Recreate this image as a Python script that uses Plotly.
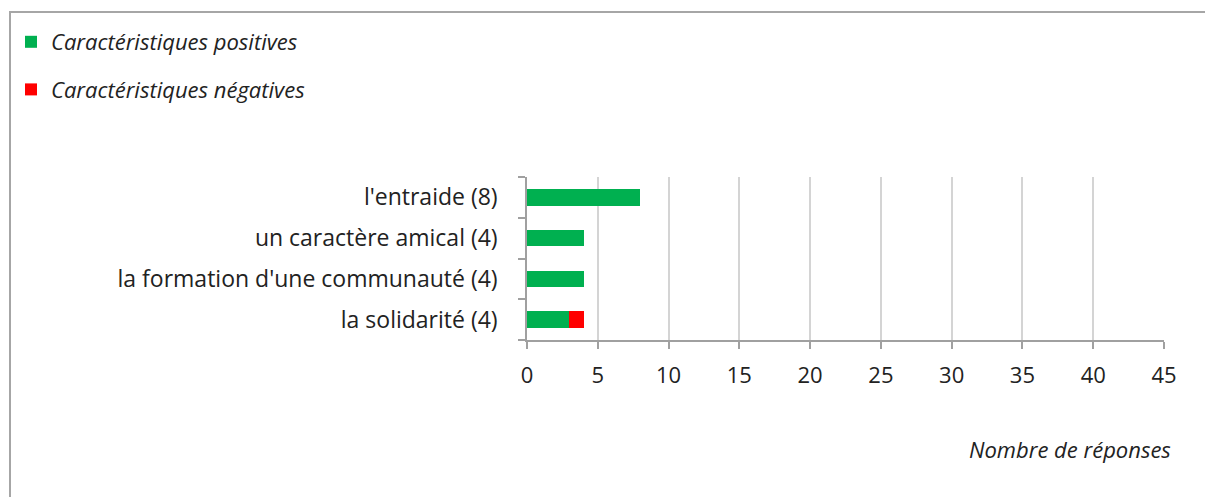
import plotly.graph_objects as go

categories = ["la solidarité (4)", "la formation d'une communauté (4)", "un caractère amical (4)", "l'entraide (8)"]
positives = [3, 4, 4, 8]
negatives = [1, 0, 0, 0]
x_ticks = [0, 5, 10, 15, 20, 25, 30, 35, 40, 45]

OFF = 8  # page body margin
W, H = 1213 - OFF, 497 - OFF
# plot area in page pixel coords
PL, PR, PT, PB = 527, 1164, 177, 340
L, T = PL - OFF, PT - OFF
R, B = W - (PR - OFF), H - (PB - OFF)
pw, ph = PR - PL, PB - PT

def px(xp):
    return (xp - PL) / pw

def py(yp):
    return (PB - yp) / ph

FONT = "Open Sans"
FS = 22
fig = go.Figure()
fig.add_trace(go.Bar(y=categories, x=positives, orientation="h", name="<i>Caractéristiques positives</i>",
                     marker=dict(color="#00B050", line=dict(width=0)), legendgroup="a"))
fig.add_trace(go.Bar(y=categories, x=negatives, orientation="h", name="<i>Caractéristiques négatives</i>",
                     marker=dict(color="#FF0000", line=dict(width=0)), legendgroup="b"))

fig.update_layout(
    width=W, height=H, barmode="stack", bargap=0.6,
    margin=dict(l=L, r=R, t=T, b=B, autoexpand=False),
    paper_bgcolor="white", plot_bgcolor="white",
    font=dict(family=FONT, size=FS, color="#222222"),
    showlegend=True,
    legend=dict(x=px(11), y=py(21), xanchor="left", yanchor="top", tracegroupgap=16,
                traceorder="grouped", font=dict(size=FS, color="#222222", family=FONT),
                bgcolor="rgba(0,0,0,0)", itemwidth=30),
    xaxis=dict(range=[0, 45], tickvals=x_ticks, showgrid=True, gridcolor="#D4D4D4", gridwidth=1.5,
               showline=True, linecolor="#A0A0A0", linewidth=1.5, ticks="outside", ticklen=7,
               tickcolor="#A0A0A0", tickwidth=1.5, zeroline=False, tickfont=dict(size=FS),
               ticklabelstandoff=8),
    yaxis=dict(type="category", categoryorder="array", categoryarray=categories,
               showline=True, linecolor="#A0A0A0", linewidth=1.5, ticks="outside", ticklen=7,
               tickcolor="#A0A0A0", tickwidth=1.5, tickson="boundaries", showgrid=False,
               ticklabelstandoff=23, tickfont=dict(size=23)),
    shapes=[dict(type="rect", xref="paper", yref="paper", x0=px(10), x1=px(1225), y0=py(510), y1=py(12),
                 line=dict(color="#A6A6A6", width=2), fillcolor="rgba(0,0,0,0)", layer="below")],
    annotations=[dict(text="<i>Nombre de réponses</i>", xref="paper", yref="paper", x=px(1173), y=py(449),
                      xanchor="right", yanchor="middle", showarrow=False, font=dict(size=FS, color="#222222"))],
)

fig.write_html("out.html")
